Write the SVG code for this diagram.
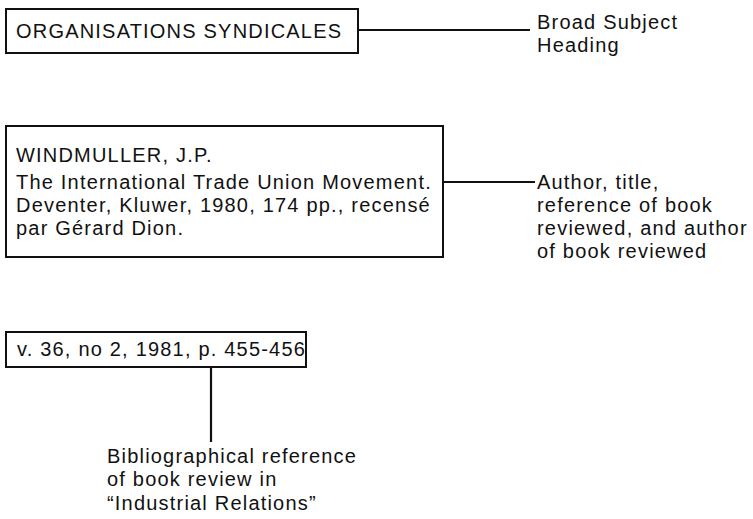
<svg xmlns="http://www.w3.org/2000/svg" width="753" height="519" viewBox="0 0 753 519">
<style>
.box{fill:#fff;stroke:#111;stroke-width:2}
.t{font-family:"Liberation Sans",Arial,sans-serif;font-size:20px;letter-spacing:1.2px;fill:#111}
.c{stroke:#111;stroke-width:2.2;fill:none}
</style>
<rect width="753" height="519" fill="#fff"/>
<g id="connectors">
<line class="c" x1="358" y1="30" x2="530" y2="30"/>
<line class="c" x1="443" y1="182" x2="535" y2="182"/>
<line class="c" x1="211" y1="367" x2="211" y2="442"/>
</g>
<g id="subject-heading">
<rect class="box" x="6" y="9" width="352" height="44"/>
<text class="t" x="16" y="38">ORGANISATIONS SYNDICALES</text>
</g>
<g id="book-entry">
<rect class="box" x="6" y="126" width="437" height="131"/>
<text class="t" x="16" y="162">WINDMULLER, J.P.</text>
<text class="t" x="16" y="189">The International Trade Union Movement.</text>
<text class="t" x="16" y="212">Deventer, Kluwer, 1980, 174 pp., recensé</text>
<text class="t" x="16" y="235">par Gérard Dion.</text>
</g>
<g id="reference">
<rect class="box" x="6" y="332" width="300" height="35"/>
<text class="t" x="17" y="356">v. 36, no 2, 1981, p. 455-456</text>
</g>
<g id="label-broad">
<text class="t" x="537" y="29">Broad Subject</text>
<text class="t" x="537" y="52">Heading</text>
</g>
<g id="label-author">
<text class="t" x="537" y="189">Author, title,</text>
<text class="t" x="537" y="212">reference of book</text>
<text class="t" x="537" y="235">reviewed, and author</text>
<text class="t" x="537" y="258">of book reviewed</text>
</g>
<g id="label-biblio">
<text class="t" x="107" y="463">Bibliographical reference</text>
<text class="t" x="107" y="486">of book review in</text>
<text class="t" x="107" y="510">“Industrial Relations”</text>
</g>
</svg>
